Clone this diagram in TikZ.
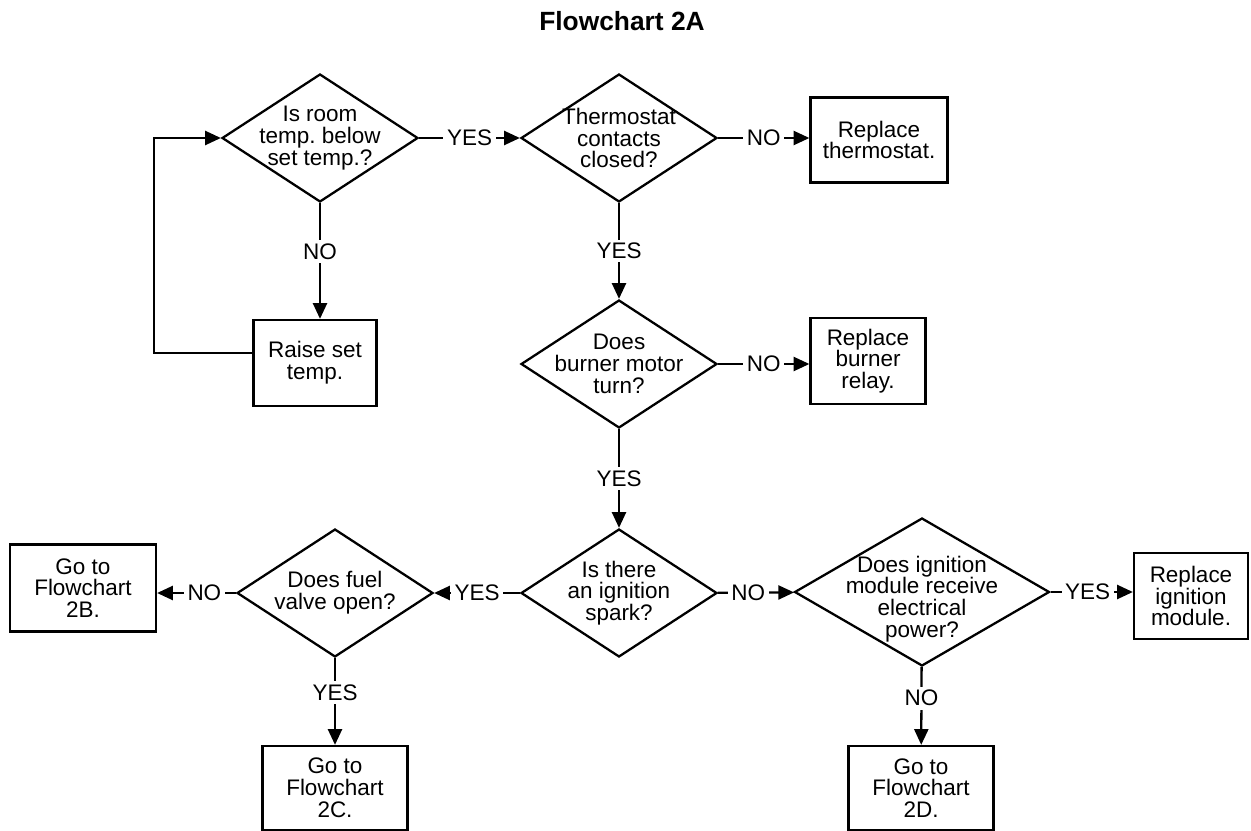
\documentclass[tikz,border=0pt]{standalone}
\usepackage{fontspec}
\setmainfont{Liberation Sans}
\usetikzlibrary{shapes.geometric,arrows.meta}

\begin{document}
\begin{tikzpicture}[x=0.02cm,y=-0.02cm,line width=1.3pt,>={Triangle[length=9pt,width=8pt]},
	font=\fontsize{12.8}{12.4}\selectfont\frenchspacing]
		\tikzstyle{decision}=[diamond,draw,inner sep=0pt,minimum width=3.92cm,minimum height=2.56cm]
		\tikzstyle{block}=[rectangle,draw,align=center,inner sep=2pt,minimum height=1.72cm]
		\tikzstyle{answer}=[fill=white,inner sep=2pt]
		\useasboundingbox (0,0) rectangle (1251,831);
		\node[font=\bfseries\fontsize{15}{17}\selectfont] (title) at (622,21) {Flowchart 2A};
		% questions
		\node[decision,label={[align=center]center:Is room\\temp. below\\set temp.?}] (d_1) at (320,138) {};
		\node[decision,label={[align=center]center:Thermostat\\contacts\\closed?}] (d_2) at (619,138) {};
		\node[decision,label={[align=center]center:Does\\burner motor\\turn?}] (d_3) at (619,364) {};
		\node[decision,label={[align=center]center:Is there\\an ignition\\spark?}] (d_4) at (619,593) {};
		\node[decision,label={[align=center]center:Does fuel\\valve open?}] (d_5) at (335,593) {};
		\node[decision,minimum width=5.1cm,minimum height=2.96cm,
			label={[align=center,yshift=-4pt]center:Does ignition\\module receive\\electrical\\power?}] (d_6) at (922,592) {};
		% actions
		\node[block,minimum width=2.74cm,minimum height=1.7cm] (b_thermo) at (879,140) {Replace\\thermostat.};
		\node[block,minimum width=2.46cm] (b_raise) at (315,363) {Raise set\\temp.};
		\node[block,minimum width=2.3cm] (b_relay) at (868,361) {Replace\\burner\\relay.};
		\node[block,minimum width=2.92cm,minimum height=1.74cm] (b_2B) at (83,588) {Go to\\Flowchart\\2B.};
		\node[block,minimum width=2.9cm,minimum height=1.68cm] (b_2C) at (335,788) {Go to\\Flowchart\\2C.};
		\node[block,minimum width=2.9cm,minimum height=1.68cm] (b_2D) at (921,788) {Go to\\Flowchart\\2D.};
		\node[block,minimum width=2.28cm] (b_module) at (1191,596) {Replace\\ignition\\module.};
		\coordinate (loop) at (154,353);
		% connectors
		\draw[->] (d_1) -- node[answer]{YES} (d_2);
		\draw[->] (d_2) -- node[answer]{NO} (d_2 -| b_thermo.west);
		\draw[->] (d_1) -- node[answer,pos=0.42]{NO} (d_1 |- b_raise.north);
		\draw[->] (b_raise.west |- loop) -- (loop) |- (d_1);
		\draw[->] (d_2) -- node[answer]{YES} (d_3);
		\draw[->] (d_3) -- node[answer]{NO} (d_3 -| b_relay.west);
		\draw[->] (d_3) -- node[answer]{YES} (d_4);
		\draw[->] (d_4) -- node[answer]{YES} (d_5);
		\draw[->] (d_5) -- node[answer,pos=0.4]{NO} (d_5 -| b_2B.east);
		\draw[->] (d_5) -- node[answer,pos=0.4]{YES} (b_2C);
		\draw[->] (d_4) -- node[answer,pos=0.4]{NO} (d_6);
		\draw[->] (d_6) -- node[answer,pos=0.45]{YES} (d_6 -| b_module.west);
		\draw[->] (d_6) -- node[answer,pos=0.4]{NO} (b_2D);
\end{tikzpicture}
\end{document}
